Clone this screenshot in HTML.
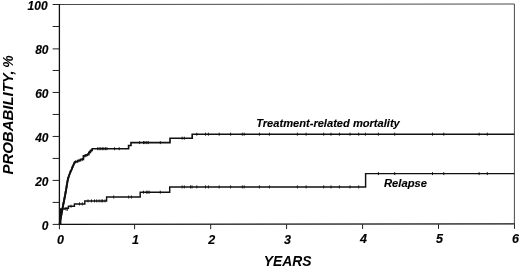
<!DOCTYPE html>
<html lang="en"><head><meta charset="utf-8"><title>Cumulative incidence</title>
<style>
html,body{margin:0;padding:0;background:#fff;}
body{width:520px;height:267px;overflow:hidden;}
svg{display:block;filter:blur(0.3px);}
text{font-family:"Liberation Sans",Arial,Helvetica,sans-serif;font-weight:bold;font-style:italic;fill:#000;}
.tl{font-size:12.5px;stroke:#000;stroke-width:0.15px;}
.lab{font-size:10.5px;stroke:#000;stroke-width:0.12px;}
.ax{font-size:14px;}
</style></head><body>
<svg xmlns="http://www.w3.org/2000/svg" width="520" height="267" viewBox="0 0 520 267">
<rect width="520" height="267" fill="#fff"/>
<path d="M59.4 4.5L514.4 4.0V223.9" fill="none" stroke="#333" stroke-width="0.9"/>
<path d="M59.4 4.0V224.4L514.8 223.9" fill="none" stroke="#111" stroke-width="1.3"/>
<path d="M52.6 224.40H59.4M52.6 202.41H59.4M52.6 180.42H59.4M52.6 158.43H59.4M52.6 136.44H59.4M52.6 114.45H59.4M52.6 92.46H59.4M52.6 70.47H59.4M52.6 48.88H59.4M52.6 26.49H59.4M52.6 4.50H59.4M59.40 224.20V229.30M134.60 224.20V229.22M210.70 224.20V229.14M286.60 224.20V229.06M362.60 224.20V228.98M438.50 224.20V228.90M514.50 224.20V228.82" fill="none" stroke="#222" stroke-width="1"/>
<text class="tl" x="48.5" y="229.70" text-anchor="end" textLength="6.67" lengthAdjust="spacingAndGlyphs">0</text>
<text class="tl" x="48.5" y="185.72" text-anchor="end" textLength="13.34" lengthAdjust="spacingAndGlyphs">20</text>
<text class="tl" x="48.5" y="141.74" text-anchor="end" textLength="13.34" lengthAdjust="spacingAndGlyphs">40</text>
<text class="tl" x="48.5" y="97.76" text-anchor="end" textLength="13.34" lengthAdjust="spacingAndGlyphs">60</text>
<text class="tl" x="48.5" y="53.78" text-anchor="end" textLength="13.34" lengthAdjust="spacingAndGlyphs">80</text>
<text class="tl" x="47.6" y="10.20" text-anchor="end" textLength="20.01" lengthAdjust="spacingAndGlyphs">100</text>
<text class="tl" x="60.40" y="243.80" text-anchor="middle">0</text>
<text class="tl" x="135.60" y="243.71" text-anchor="middle">1</text>
<text class="tl" x="211.70" y="243.62" text-anchor="middle">2</text>
<text class="tl" x="287.60" y="243.53" text-anchor="middle">3</text>
<text class="tl" x="363.60" y="243.44" text-anchor="middle">4</text>
<text class="tl" x="439.50" y="243.35" text-anchor="middle">5</text>
<text class="tl" x="515.50" y="243.26" text-anchor="middle">6</text>
<text class="ax" transform="translate(12.9,174.6) rotate(-90)"><tspan textLength="104.2" lengthAdjust="spacingAndGlyphs">PROBABILITY,</tspan> <tspan x="106.9" textLength="12.4" lengthAdjust="spacingAndGlyphs">%</tspan></text>
<text class="ax" style="font-size:14.7px" x="263.8" y="265.8" textLength="47.8" lengthAdjust="spacingAndGlyphs">YEARS</text>
<polyline points="59.60,224.40 60.30,220.00 61.60,213.70 62.60,208.00 63.70,202.50 64.80,197.00 66.10,190.00 66.90,185.00 67.70,180.00 68.90,176.00 70.20,172.50 71.40,170.00 72.90,166.50 74.00,163.70 75.00,161.80 77.50,161.80 77.50,160.60 80.50,160.60 80.50,159.40 83.40,159.40 83.40,155.90 86.00,155.90 86.00,154.70 88.80,154.70 88.80,152.30 90.40,152.30 90.40,150.50 92.20,150.50 92.20,148.70 128.60,148.70 128.60,145.50 131.00,145.50 131.00,142.60 170.00,142.60 170.00,138.20 192.20,138.20 192.20,134.20 514.40,134.20" fill="none" stroke="#111" stroke-width="1.65" stroke-linejoin="miter"/>
<polyline points="59.60,224.40 60.30,220.00 61.60,213.70 62.60,208.00 63.70,202.50 64.80,197.00 66.10,190.00 66.90,185.00 67.70,180.00 68.90,176.00 70.20,172.50 71.40,170.00 72.90,166.50 74.00,163.70 75.00,161.80" fill="none" stroke="#111" stroke-width="1.9" stroke-linejoin="round"/>
<polyline points="59.60,224.40 60.20,223.60 60.70,223.60 60.70,208.90 65.00,208.90 65.00,208.30 68.40,208.30 68.40,206.20 74.40,206.20 74.40,203.90 84.80,203.90 84.80,200.90 106.60,200.90 106.60,197.00 140.20,197.00 140.20,192.20 169.70,192.20 169.70,186.90 365.60,186.90 365.60,173.60 514.40,173.60" fill="none" stroke="#111" stroke-width="1.45" stroke-linejoin="miter"/>
<path d="M61.00 214.50V217.50M62.00 208.50V211.50M63.00 202.50V205.50M64.20 196.50V199.50M65.20 191.00V194.00M66.30 184.50V187.50M67.60 177.50V180.50M70.30 170.00V173.00M72.00 166.00V169.00M75.60 160.30V163.30M79.00 159.10V162.10M82.30 157.90V160.90M83.60 156.00V159.00M84.80 154.40V157.40M87.50 153.20V156.20M89.60 150.80V153.80M91.20 149.00V152.00M97.70 147.20V150.20M99.20 147.20V150.20M100.80 147.20V150.20M102.30 147.20V150.20M103.80 147.20V150.20M105.40 147.20V150.20M106.90 147.20V150.20M114.60 147.20V150.20M119.20 147.20V150.20M139.60 141.10V144.10M143.50 141.10V144.10M144.90 141.10V144.10M146.80 141.10V144.10M148.30 141.10V144.10M160.30 141.10V144.10M182.10 136.70V139.70M184.30 136.70V139.70M196.80 132.70V135.70M205.50 132.70V135.70M208.40 132.70V135.70M219.20 132.70V135.70M230.60 132.70V135.70M242.30 132.70V135.70M244.20 132.70V135.70M259.40 132.70V135.70M269.40 132.70V135.70M297.40 132.70V135.70M306.10 132.70V135.70M323.70 132.70V135.70M331.00 132.70V135.70M339.40 132.70V135.70M350.00 132.70V135.70M358.70 132.70V135.70M365.40 132.70V135.70M378.40 132.70V135.70M394.70 132.70V135.70M432.50 132.70V135.70M443.75 132.70V135.70M479.10 132.70V135.70M487.30 132.70V135.70M66.00 207.50V210.50M67.30 207.80V210.80M71.00 204.70V207.70M79.50 202.40V205.40M82.30 202.40V205.40M88.00 199.40V202.40M91.50 199.40V202.40M94.50 199.40V202.40M96.70 199.40V202.40M99.00 199.40V202.40M101.20 199.40V202.40M102.70 199.40V202.40M105.00 199.40V202.40M113.70 195.50V198.50M128.70 195.50V198.50M131.40 195.50V198.50M143.50 190.70V193.70M146.30 190.70V193.70M147.80 190.70V193.70M149.20 190.70V193.70M160.30 190.70V193.70M182.10 185.40V188.40M184.30 185.40V188.40M190.50 185.40V188.40M192.00 185.40V188.40M196.80 185.40V188.40M205.50 185.40V188.40M208.40 185.40V188.40M219.20 185.40V188.40M230.60 185.40V188.40M242.30 185.40V188.40M244.20 185.40V188.40M259.40 185.40V188.40M269.40 185.40V188.40M297.40 185.40V188.40M306.10 185.40V188.40M323.70 185.40V188.40M331.00 185.40V188.40M339.40 185.40V188.40M350.00 185.40V188.40M358.70 185.40V188.40M378.40 172.10V175.10M394.70 172.10V175.10M432.50 172.10V175.10M443.75 172.10V175.10M479.10 172.10V175.10M487.30 172.10V175.10" fill="none" stroke="#111" stroke-width="0.95"/>
<text class="lab" x="256.2" y="126.9" textLength="143.6" lengthAdjust="spacingAndGlyphs">Treatment-related mortality</text>
<text class="lab" x="384" y="186.6" textLength="43" lengthAdjust="spacingAndGlyphs">Relapse</text>
</svg>
</body></html>
